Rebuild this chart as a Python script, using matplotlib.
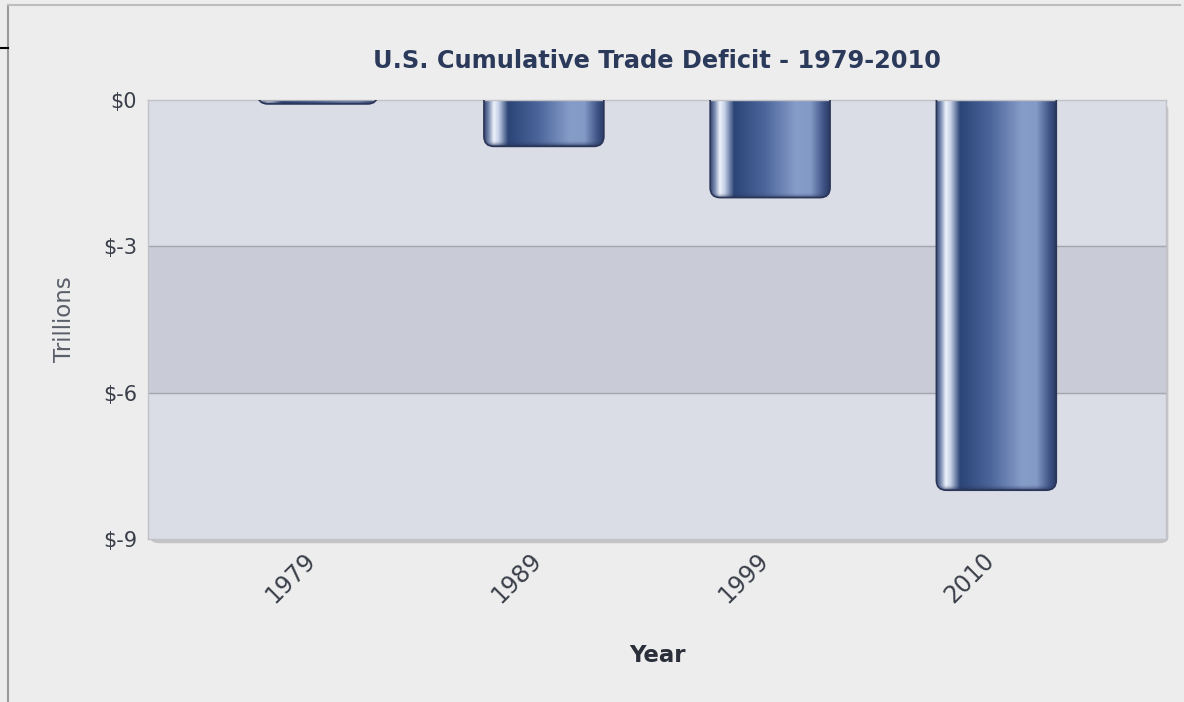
import matplotlib
matplotlib.use("Agg")
import matplotlib.pyplot as plt
import numpy as np
from matplotlib.colors import LinearSegmentedColormap, to_rgb
from matplotlib.patches import FancyBboxPatch
from matplotlib.lines import Line2D
import matplotlib.transforms as mtransforms

# data (trillions of dollars)
years = ["1979", "1989", "1999", "2010"]
deficit = [-0.08, -0.95, -2.0, -8.0]
y_ticks = [0, -3, -6, -9]
y_tick_labels = ["$0", "$-3", "$-6", "$-9"]

title = "U.S. Cumulative Trade Deficit - 1979-2010"

fig = plt.figure(figsize=(11.84, 7.02), dpi=100, facecolor="#ededed")
ax = fig.add_axes([0.125, 0.2322, 0.8598, 0.6253])
ax.set_facecolor("#dadde5")

xmin, xmax = -0.75, len(years) - 0.25
ymin, ymax = -9, 0
ax.set_xlim(xmin, xmax)
ax.set_ylim(ymin, ymax)

# banded background
ax.axhspan(-6, -3, color="#c9ccd6", zorder=0)
for yv in [-3, -6]:
    ax.axhline(yv, color="#a3a7b1", lw=1, zorder=1)

# shadow behind plot area
shadow = FancyBboxPatch((0.125 + 0.002, 0.2322 - 0.006), 0.8598, 0.6253,
                        boxstyle="round,pad=0,rounding_size=0.008",
                        transform=fig.transFigure, facecolor="#c4c4c8",
                        edgecolor="none", zorder=-1)
fig.patches.append(shadow)

# cylinder-like gradient for the bars
grad = LinearSegmentedColormap.from_list("bar", [
    (0.0, "#34466f"), (0.04, "#7d8fb5"), (0.08, "#eef3fb"),
    (0.12, "#c7d2e8"), (0.2, "#2c4577"), (0.45, "#4b659a"),
    (0.72, "#879dc9"), (0.84, "#8399c6"), (0.95, "#3e5384"),
    (1.0, "#2a3a66")])
g = np.linspace(0, 1, 256).reshape(1, -1)

# dark shading at the bottom of each bar (row 0 = top)
dark = np.zeros((32, 1, 4))
dark[:, 0, :3] = to_rgb("#28345a")
dark[:, 0, 3] = np.linspace(0, 0.9, 32) ** 2

bar_w = 0.53
px_x = 1018 / (xmax - xmin)
px_y = 439 / (ymax - ymin)
r_px = 10
for i, v in enumerate(deficit):
    x0 = i - bar_w / 2
    top = 0.4
    rx = r_px / px_x
    box = FancyBboxPatch((x0, v), bar_w, top - v,
                         boxstyle="round,pad=0,rounding_size=%f" % rx,
                         mutation_aspect=(1 / px_y) / (1 / px_x),
                         facecolor="none", edgecolor="#2a3558", lw=1.2, zorder=4)
    ax.add_patch(box)
    im = ax.imshow(g, cmap=grad, aspect="auto", extent=(x0, x0 + bar_w, v, top),
                   zorder=2, interpolation="bilinear")
    im.set_clip_path(box)
    im2 = ax.imshow(dark, aspect="auto", extent=(x0, x0 + bar_w, v, v + 6 / px_y),
                    zorder=3, interpolation="bilinear")
    im2.set_clip_path(box)

# x tick labels drawn as text so the offset is exact
ax.set_xticks(range(len(years)))
ax.set_xticklabels([])
off = mtransforms.ScaledTranslation(-14 / 100, -9 / 100, fig.dpi_scale_trans)
for i, yr in enumerate(years):
    ax.text(i, 0, yr, transform=ax.get_xaxis_transform() + off,
            rotation=45, rotation_mode="anchor", ha="right", va="top",
            fontsize=17, color="#3a3f4a")

ax.set_yticks(y_ticks)
ax.set_yticklabels(y_tick_labels, fontsize=15, color="#3a3f4a")
ax.tick_params(length=0)
ax.tick_params(axis="y", pad=8)
for s in ax.spines.values():
    s.set_color("#c0c2c8")
    s.set_linewidth(1)

ax.set_ylabel("Trillions", fontsize=16.5, color="#5a5f6a", labelpad=19)
ax.text(0.5, -0.265, "Year", transform=ax.transAxes, ha="center", va="center",
        fontsize=16.5, fontweight="bold", color="#2a2f3a")
ax.set_title(title, fontsize=17.3, fontweight="bold", color="#2b3a5a", pad=23)

# outer frame lines
fig.add_artist(Line2D([8 / 1184, 8 / 1184], [0, 1 - 5 / 702], color="#9a9a9a", lw=1.5))
fig.add_artist(Line2D([8 / 1184, 1180 / 1184], [1 - 5 / 702, 1 - 5 / 702], color="#bdbdbd", lw=1.5))
fig.add_artist(Line2D([0, 8 / 1184], [1 - 48 / 702, 1 - 48 / 702], color="black", lw=1.5))

fig.savefig("out.png", dpi=100, facecolor=fig.get_facecolor())
